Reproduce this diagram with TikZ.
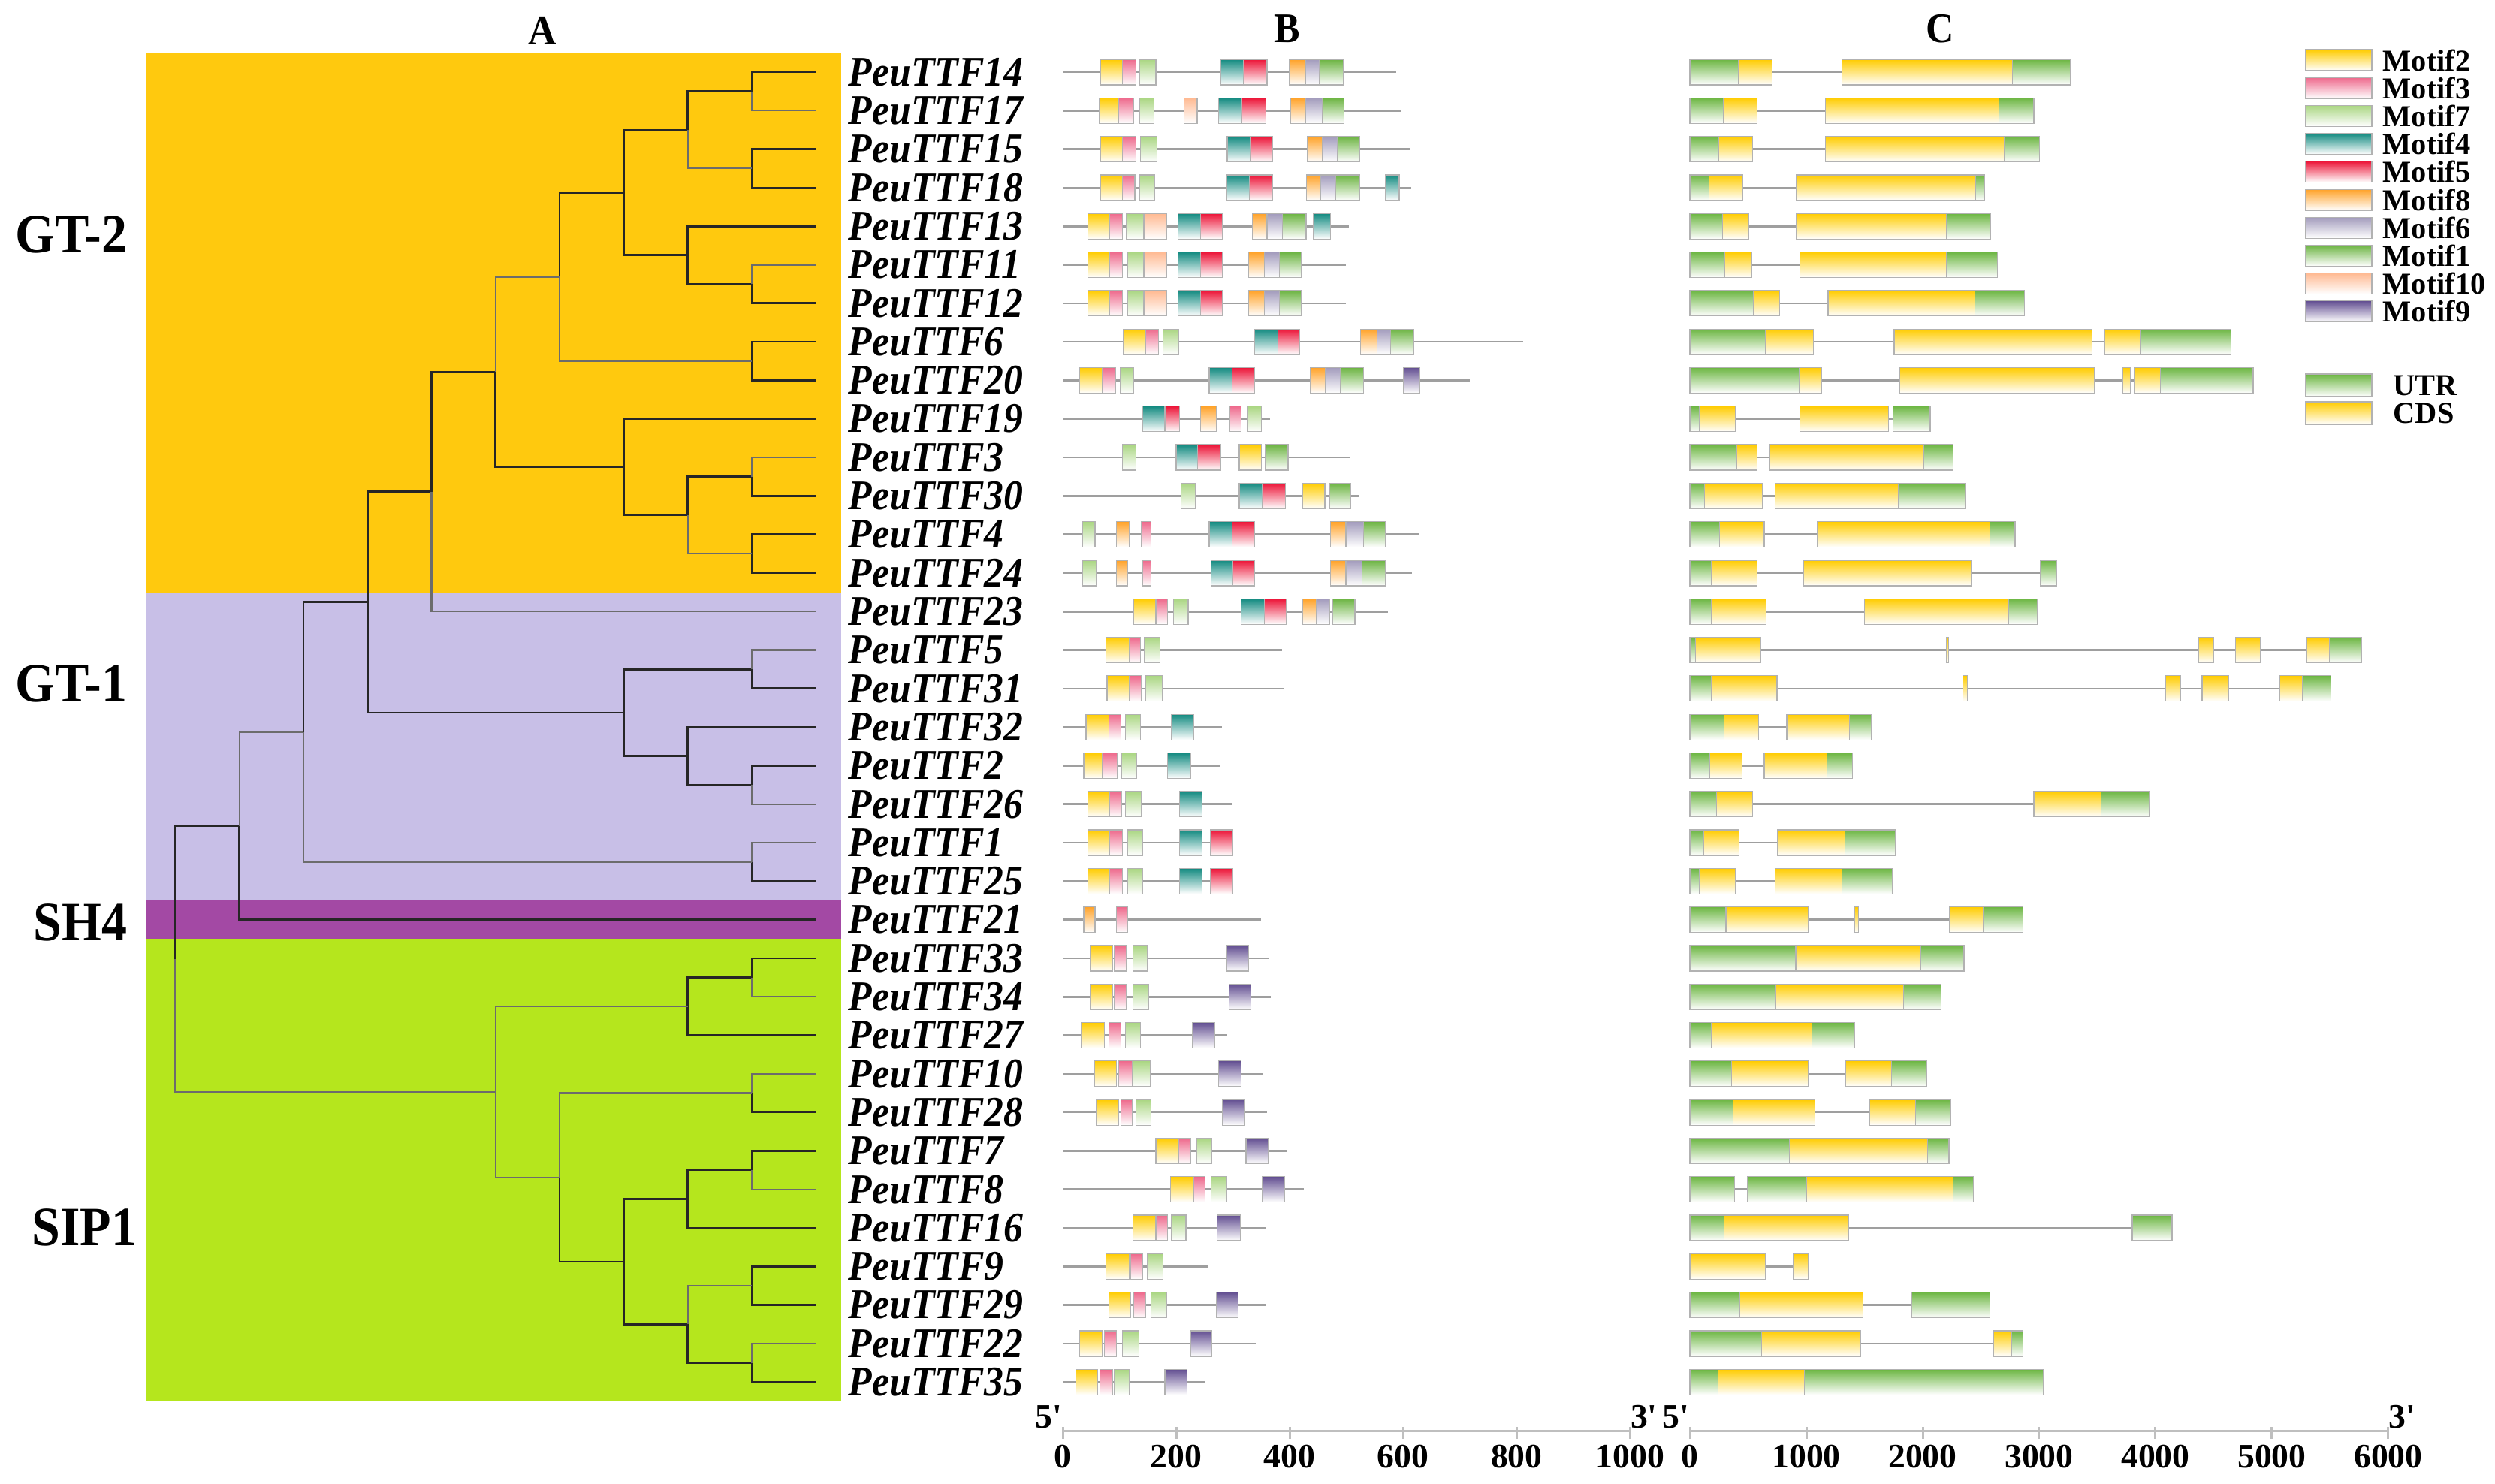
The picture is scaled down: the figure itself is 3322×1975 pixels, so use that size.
\documentclass[tikz,border=0pt]{standalone}
\usepackage{fontspec}
\setmainfont{Liberation Serif}
\newfontfamily\narrowfont[FakeStretch=0.92]{Liberation Serif}
\usetikzlibrary{calc}
\definecolor{m1}{RGB}{108,180,66}
\definecolor{m2}{RGB}{255,204,0}
\definecolor{m3}{RGB}{238,105,140}
\definecolor{m4}{RGB}{18,138,128}
\definecolor{m5}{RGB}{236,20,55}
\definecolor{m6}{RGB}{162,155,188}
\definecolor{m7}{RGB}{170,214,130}
\definecolor{m8}{RGB}{255,162,40}
\definecolor{m9}{RGB}{98,78,145}
\definecolor{m10}{RGB}{255,185,145}
\definecolor{utr}{RGB}{108,182,66}
\definecolor{cds}{RGB}{255,204,0}
\definecolor{gtyellow}{RGB}{255,201,14}
\definecolor{gtlav}{RGB}{200,191,231}
\definecolor{shpurple}{RGB}{163,73,164}
\definecolor{sipgreen}{RGB}{181,230,29}
% tree node: name, level, row
\newcommand\tn[3]{\coordinate (#1) at ({1001-85.3*(#2-1)},{96+51.3*(#3)});}

\begin{document}
\begin{tikzpicture}[x=0.1mm, y=-0.1mm, br/.style={draw=black!85, line width=0.27mm}, brg/.style={draw=gray!85!black, line width=0.22mm}]
    \tikzset{mot/.style={top color=#1, bottom color=white, draw=gray!60, line width=0.12mm}}
    \tikzset{bb/.style={draw=gray!75, line width=0.26mm}}
    \tikzset{gene/.style={font=\narrowfont\bfseries\itshape\fontsize{16}{16}\selectfont, inner sep=0pt, anchor=west}}
    \tikzset{grp/.style={font=\narrowfont\bfseries\fontsize{21}{21}\selectfont, inner sep=0pt, anchor=east}}
    \tikzset{ttl/.style={font=\narrowfont\bfseries\fontsize{16}{16}\selectfont, inner sep=0pt}}
    \tikzset{leg/.style={font=\bfseries\fontsize{11.5}{11.5}\selectfont, inner sep=0pt, anchor=west}}
    \tikzset{tick/.style={font=\bfseries\fontsize{13}{13}\selectfont, inner sep=0pt}}
    \tikzset{axis/.style={draw=gray!50, line width=0.3mm}}
    \useasboundingbox (0,0) rectangle (3322,1975);

    \node[ttl] (tA) at (722,41) {A};
    \node[ttl] (tB) at (1714,38) {B};
    \node[ttl] (tC) at (2583,38) {C};

    % clade bands
    \fill[gtyellow] (194,70.35) rectangle (1120,788.55);
    \fill[gtlav] (194,788.55) rectangle (1120,1198.95);
    \fill[shpurple] (194,1198.95) rectangle (1120,1250.25);
    \fill[sipgreen] (194,1250.25) rectangle (1120,1865);

    \node[grp] (gt2) at (170,312) {GT-2};
    \node[grp] (gt1) at (170,910) {GT-1};
    \node[grp] (sh4) at (170,1228) {SH4};
    \node[grp] (sip1) at (183,1634) {SIP1};

    % tree
    \foreach \i in {0,...,34} \coordinate (l\i) at (1087,{96+51.3*\i});
    \tn{n1}{1}{0.5} \tn{n2}{1}{2.5} \tn{n3}{2}{1.5} \tn{n4}{1}{5.5} \tn{n5}{2}{4.75}
    \tn{n6}{3}{3.125} \tn{n7}{1}{7.5} \tn{n8}{4}{5.3125} \tn{n9}{1}{10.5} \tn{n10}{1}{12.5}
    \tn{n11}{2}{11.5} \tn{n12}{3}{10.25} \tn{n13}{5}{7.78125} \tn{n14}{6}{10.890625}
    \tn{n15}{1}{15.5} \tn{n16}{1}{18.5} \tn{n17}{2}{17.75} \tn{n18}{3}{16.625}
    \tn{n19}{7}{13.7578} \tn{n20}{1}{20.5} \tn{n21}{8}{17.1289} \tn{n22}{9}{19.5645}
    \tn{n23}{1}{23.5} \tn{n24}{2}{24.25} \tn{n25}{1}{26.5} \tn{n26}{1}{28.5} \tn{n27}{2}{29.25}
    \tn{n28}{1}{31.5} \tn{n29}{1}{33.5} \tn{n30}{2}{32.5} \tn{n31}{3}{30.875}
    \tn{n32}{4}{28.6875} \tn{n33}{5}{26.46875} \tn{n34}{10}{23.0166}
    \foreach \p/\q in {n1/l0,n2/l2,n2/l3,n3/n1,n4/l6,n5/l4,n5/n4,n6/n3,n6/n5,n7/l7,n7/l8,n8/n6,
        n9/l11,n10/l12,n10/l13,n11/n9,n12/l9,n12/n11,n13/n12,n14/n13,n15/l16,n16/l18,n17/l17,
        n17/n16,n18/n15,n18/n17,n19/n14,n19/n18,n20/l21,n21/n19,n22/l22,n23/l23,n24/n23,n24/l25,
        n25/l27,n26/l28,n27/n26,n27/l30,n28/l31,n28/l32,n29/l34,n30/n29,n31/n27,n31/n30,n32/n31,n34/n22}
        \draw[br] (\p) |- (\q);
    \foreach \p/\q in {n1/l1,n3/n2,n4/l5,n8/n7,n9/l10,n11/n10,n13/n8,n14/l14,n15/l15,n16/l19,
        n20/l20,n21/n20,n22/n21,n23/l24,n25/l26,n26/l29,n29/l33,n30/n28,n32/n25,n33/n24,n33/n32,n34/n33}
        \draw[brg] (\p) |- (\q);

    \foreach \g [count=\i from 0] in {14,17,15,18,13,11,12,6,20,19,3,30,4,24,23,5,31,32,2,26,1,25,21,33,34,27,10,28,7,8,16,9,29,22,35}
        \node[gene] (lab\i) at (1129,{96+51.3*\i}) {PeuTTF\g};

    % B: motifs
    \begin{scope}[shift={(1415,0)}, x=0.07555mm]
    \foreach \rw/\len/\ms in {
        0/588/{67/105/m2,105/129/m3,135/164/m7,279/319/m4,319/360/m5,399/428/m8,428/452/m6,452/494/m1},
        1/596/{64/98/m2,98/125/m3,135/161/m7,214/237/m10,275/316/m4,316/358/m5,402/428/m8,428/457/m6,457/496/m1},
        2/612/{67/105/m2,105/129/m3,137/166/m7,290/331/m4,331/370/m5,431/457/m8,457/484/m6,484/523/m1},
        3/614/{67/105/m2,105/127/m3,135/162/m7,289/329/m4,329/370/m5,430/455/m8,455/481/m6,481/523/m1,569/593/m4},
        4/504/{44/83/m2,83/105/m3,112/143/m7,143/183/m10,203/243/m4,243/282/m5,334/360/m8,360/387/m6,387/429/m1,442/472/m4},
        5/499/{44/83/m2,83/105/m3,114/143/m7,143/183/m10,203/243/m4,243/282/m5,328/355/m8,355/382/m6,382/420/m1},
        6/499/{44/83/m2,83/105/m3,114/143/m7,143/183/m10,203/243/m4,243/282/m5,328/355/m8,355/382/m6,382/420/m1},
        7/811/{107/146/m2,146/169/m3,177/204/m7,338/379/m4,379/418/m5,525/554/m8,554/578/m6,578/619/m1},
        8/717/{30/70/m2,70/93/m3,101/125/m7,258/299/m4,299/338/m5,436/463/m8,463/489/m6,489/530/m1,601/629/m9},
        9/365/{141/180/m4,180/206/m5,243/271/m8,295/314/m3,326/350/m7},
        10/506/{105/129/m7,200/238/m4,238/279/m5,311/350/m2,357/397/m1},
        11/522/{209/234/m7,311/352/m4,352/392/m5,423/462/m2,470/508/m1},
        12/629/{35/57/m7,95/117/m8,138/156/m3,258/299/m4,299/338/m5,472/499/m8,499/530/m6,530/569/m1},
        13/615/{35/59/m7,95/115/m8,141/156/m3,261/300/m4,300/338/m5,472/499/m8,499/527/m6,527/569/m1},
        14/573/{125/164/m2,164/185/m3,195/221/m7,314/355/m4,355/394/m5,423/447/m8,447/470/m6,476/515/m1},
        15/387/{76/117/m2,117/137/m3,144/171/m7},
        16/389/{78/117/m2,117/138/m3,146/175/m7},
        17/280/{41/81/m2,81/103/m3,110/137/m7,192/231/m4},
        18/276/{37/70/m2,70/96/m3,104/130/m7,185/226/m4},
        19/299/{44/83/m2,83/104/m3,110/138/m7,206/246/m4},
        20/300/{44/83/m2,83/105/m3,114/141/m7,206/246/m4,260/300/m5},
        21/300/{44/83/m2,83/105/m3,114/141/m7,206/246/m4,260/300/m5},
        22/350/{37/57/m8,95/114/m3},
        23/363/{49/88/m2,91/112/m3,124/149/m7,289/328/m9},
        24/367/{49/88/m2,91/112/m3,124/151/m7,293/332/m9},
        25/290/{33/73/m2,81/103/m3,110/137/m7,229/268/m9},
        26/353/{56/95/m2,98/122/m3,124/154/m7,275/314/m9},
        27/360/{59/98/m2,103/122/m3,129/156/m7,282/321/m9},
        28/396/{164/204/m2,204/226/m3,236/263/m7,323/362/m9},
        29/425/{190/231/m2,231/251/m3,261/289/m7,352/391/m9},
        30/357/{124/164/m2,166/185/m3,192/217/m7,272/313/m9},
        31/256/{76/117/m2,120/141/m3,149/177/m7},
        32/357/{81/120/m2,125/146/m3,156/183/m7,271/309/m9},
        33/340/{30/69/m2,73/95/m3,105/134/m7,226/263/m9},
        34/251/{23/62/m2,66/88/m3,91/117/m7,180/219/m9}} {
        \pgfmathsetmacro\yy{96+51.3*\rw}
        \draw[bb] (0,\yy) -- (\len,\yy);
        \foreach \sa/\sb/\col in \ms
            \draw[mot=\col] (\sa,{\yy-17}) rectangle (\sb,{\yy+17});
    }
    \draw[axis] (0,1905) -- (1000,1905);
    \foreach \v in {0,200,...,1000} {
        \draw[axis] (\v,1900) -- (\v,1916);
        \node[tick] (bt\v) at (\v,1940) {\v};
    }
    \node[tick, anchor=south east] (b5) at (0,1903) {5\textquotesingle};
    \node[tick, anchor=south west] (b3) at (1000,1903) {3\textquotesingle};
    \end{scope}

    % C: gene structure
    \begin{scope}[shift={(2250,0)}, x=0.0155mm]
    \foreach \rw/\len/\ex in {
        0/3269/{0/416/utr,416/707/cds,1307/2770/cds,2770/3269/utr},
        1/2955/{0/287/utr,287/578/cds,1164/2655/cds,2655/2955/utr},
        2/3001/{0/245/utr,245/541/cds,1164/2701/cds,2701/3001/utr},
        3/2531/{0/162/utr,162/453/cds,915/2457/cds,2457/2531/utr},
        4/2586/{0/278/utr,278/508/cds,915/2203/cds,2203/2586/utr},
        5/2641/{0/301/utr,301/531/cds,947/2203/cds,2203/2641/utr},
        6/2872/{0/545/utr,545/772/cds,1187/2447/cds,2447/2872/utr},
        7/4650/{0/647/utr,647/1063/cds,1755/3454/cds,3565/3870/cds,3870/4650/utr},
        8/4839/{0/938/utr,938/1132/cds,1801/3477/cds,3717/3787/cds,3823/4040/cds,4040/4839/utr},
        9/2064/{0/79/utr,79/393/cds,947/1709/cds,1746/2064/utr},
        10/2263/{0/402/utr,402/578/cds,684/2009/cds,2009/2263/utr},
        11/2364/{0/125/utr,125/624/cds,730/1792/cds,1792/2364/utr},
        12/2794/{0/254/utr,254/638/cds,1095/2577/cds,2577/2794/utr},
        13/3149/{0/185/utr,185/578/cds,979/2420/cds,3011/3149/utr},
        14/2987/{0/185/utr,185/656/cds,1501/2738/cds,2738/2987/utr},
        15/5772/{0/47/utr,47/610/cds,2207/2225/cds,4373/4502/cds,4687/4904/cds,5301/5495/cds,5495/5772/utr},
        16/5508/{0/185/utr,185/748/cds,2346/2383/cds,4087/4216/cds,4400/4631/cds,5070/5264/cds,5264/5508/utr},
        17/1556/{0/291/utr,291/591/cds,832/1372/cds,1372/1556/utr},
        18/1395/{0/171/utr,171/448/cds,638/1178/cds,1178/1395/utr},
        19/3948/{0/231/utr,231/541/cds,2955/3532/cds,3532/3948/utr},
        20/1764/{0/116/utr,116/425/cds,753/1330/cds,1330/1764/utr},
        21/1741/{0/84/utr,84/393/cds,730/1307/cds,1307/1741/utr},
        22/2863/{0/310/utr,310/1016/cds,1413/1450/cds,2231/2517/cds,2517/2863/utr},
        23/2355/{0/910/utr,910/1986/cds,1986/2355/utr},
        24/2157/{0/739/utr,739/1833/cds,1833/2157/utr},
        25/1418/{0/185/utr,185/1049/cds,1049/1418/utr},
        26/2032/{0/356/utr,356/1016/cds,1339/1732/cds,1732/2032/utr},
        27/2240/{0/370/utr,370/1072/cds,1547/1940/cds,1940/2240/utr},
        28/2226/{0/855/utr,855/2041/cds,2041/2226/utr},
        29/2438/{0/384/utr,495/1002/utr,1002/2263/cds,2263/2438/utr},
        30/4142/{0/291/utr,291/1362/cds,3800/4142/utr},
        31/1016/{0/647/cds,887/1016/cds},
        32/2577/{0/430/utr,430/1487/cds,1907/2577/utr},
        33/2863/{0/615/utr,615/1464/cds,2609/2761/cds,2761/2863/utr},
        34/3039/{0/241/utr,241/984/cds,984/3039/utr}} {
        \pgfmathsetmacro\yy{96+51.3*\rw}
        \draw[bb] (0,\yy) -- (\len,\yy);
        \foreach \sa/\sb/\col in \ex
            \draw[mot=\col] (\sa,{\yy-17}) rectangle (\sb,{\yy+17});
    }
    \draw[axis] (0,1905) -- (6000,1905);
    \foreach \v in {0,1000,...,6000} {
        \draw[axis] (\v,1900) -- (\v,1916);
        \node[tick] (ct\v) at (\v,1940) {\v};
    }
    \node[tick, anchor=south east] (c5) at (0,1903) {5\textquotesingle};
    \node[tick, anchor=south west] (c3) at (6000,1903) {3\textquotesingle};
    \end{scope}

    % legend
    \foreach \col/\txt [count=\k from 0] in {m2/Motif2,m3/Motif3,m7/Motif7,m4/Motif4,m5/Motif5,m8/Motif8,m6/Motif6,m1/Motif1,m10/Motif10,m9/Motif9} {
        \pgfmathsetmacro\yy{80+37.2*\k}
        \draw[mot=\col] (3070,{\yy-14}) rectangle (3158,{\yy+14});
        \node[leg] (key\k) at (3172,\yy) {\txt};
    }
    \draw[mot=utr] (3070,498) rectangle (3158,528);
    \node[leg] (kutr) at (3186,513) {UTR};
    \draw[mot=cds] (3070,535) rectangle (3158,565);
    \node[leg] (kcds) at (3186,550) {CDS};
\end{tikzpicture}
\end{document}
